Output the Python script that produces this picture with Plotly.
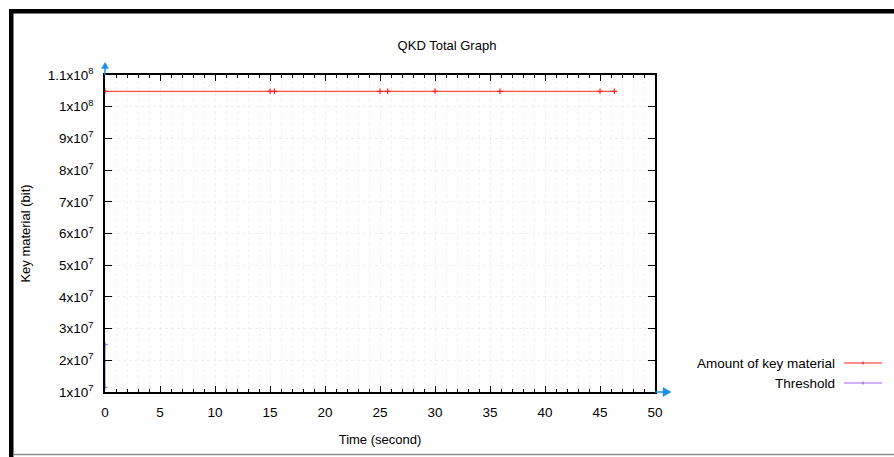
import plotly.graph_objects as go

# ---- data ----
time_s = [0, 15, 15.4, 25, 25.7, 30, 35.9, 45, 46.3]
key_material = [104857600, 104857600, 104857600, 104857600, 104857600,
                104857600, 104857600, 104857600, 104857600]
threshold_t = [0, 0]
threshold_v = [11500000, 25000000]
y_tickvals = [1e7, 2e7, 3e7, 4e7, 5e7, 6e7, 7e7, 8e7, 9e7, 1e8, 1.1e8]
y_ticktext = ["1x10<sup>7</sup>", "2x10<sup>7</sup>", "3x10<sup>7</sup>", "4x10<sup>7</sup>",
              "5x10<sup>7</sup>", "6x10<sup>7</sup>", "7x10<sup>7</sup>", "8x10<sup>7</sup>",
              "9x10<sup>7</sup>", "1x10<sup>8</sup>", "1.1x10<sup>8</sup>"]
series_names = ["Amount of key material", "Threshold"]
series_colors = ["#ff2020", "#a45ef0"]

W, H = 894, 457
L, R, T, B = 105, 655, 75, 392
FONT = "Liberation Sans, Arial, Helvetica, sans-serif"
BLUE = "#1a8fe3"


def px(xp):
    return (xp - L) / (R - L)


def py(yp):
    return (B - yp) / (B - T)


fig = go.Figure()
fig.add_trace(go.Scatter(x=threshold_t, y=threshold_v, mode="lines+markers",
                         line=dict(color=series_colors[1], width=1),
                         marker=dict(symbol="cross-thin", size=4,
                                     line=dict(color=series_colors[1], width=1)),
                         name=series_names[1], showlegend=False))
fig.add_trace(go.Scatter(x=time_s, y=key_material, mode="lines+markers",
                         line=dict(color=series_colors[0], width=1),
                         marker=dict(symbol="cross-thin", size=4,
                                     line=dict(color=series_colors[0], width=1.2)),
                         name=series_names[0], showlegend=False))

axis_common = dict(showline=True, linecolor="black", linewidth=1.5, mirror="ticks",
                   ticks="inside", tickcolor="black", tickwidth=1.4,
                   showgrid=True, gridcolor="#eeeeee", griddash="dot", gridwidth=1,
                   zeroline=False, tickfont=dict(family=FONT, size=13.5, color="black"))

fig.update_xaxes(range=[0, 50], tickmode="linear", tick0=0, dtick=5, ticklen=6,
                 ticklabelstandoff=7,
                 minor=dict(dtick=1, ticklen=3, ticks="inside", tickcolor="black",
                            showgrid=True, gridcolor="#f2f2f2", griddash="dot"),
                 title=dict(text="Time (second)", font=dict(family=FONT, size=13, color="black"),
                            standoff=16),
                 **axis_common)
fig.update_yaxes(range=[1e7, 1.1e8], tickvals=y_tickvals, ticktext=y_ticktext, ticklen=7,
                 ticklabelstandoff=7,
                 title=dict(text="Key material (bit)", font=dict(family=FONT, size=13, color="black"),
                            standoff=14),
                 **axis_common)

shapes = []
# legend samples
for i, (nm, col) in enumerate(zip(series_names, series_colors)):
    yy = py(363 + 20 * i)
    shapes.append(dict(type="line", xref="paper", yref="paper", x0=px(844), x1=px(882),
                       y0=yy, y1=yy, line=dict(color=col, width=1)))
    shapes.append(dict(type="line", xref="paper", yref="paper", x0=px(863), x1=px(863),
                       y0=py(363 + 20 * i - 1.5), y1=py(363 + 20 * i + 1.5),
                       line=dict(color=col, width=1.2)))
# blue axis arrows
shapes.append(dict(type="line", xref="paper", yref="paper", x0=px(105), x1=px(105),
                   y0=py(75), y1=py(67), line=dict(color=BLUE, width=1.5)))
shapes.append(dict(type="path", xref="paper", yref="paper",
                   path=f"M {px(101.5)},{py(68.5)} L {px(105)},{py(62.5)} L {px(108.5)},{py(68.5)} Z",
                   fillcolor=BLUE, line=dict(color=BLUE, width=0.5)))
shapes.append(dict(type="line", xref="paper", yref="paper", x0=px(655), x1=px(664),
                   y0=py(392), y1=py(392), line=dict(color=BLUE, width=1.5)))
shapes.append(dict(type="path", xref="paper", yref="paper",
                   path=f"M {px(663)},{py(387.5)} L {px(671)},{py(392)} L {px(663)},{py(396.5)} Z",
                   fillcolor=BLUE, line=dict(color=BLUE, width=0.5)))
# page border (screenshot frame)
shapes.append(dict(type="rect", xref="paper", yref="paper", x0=px(9), x1=px(894),
                   y0=py(9), y1=py(13.5), fillcolor="black", line=dict(width=0)))
shapes.append(dict(type="rect", xref="paper", yref="paper", x0=px(9), x1=px(13.5),
                   y0=py(9), y1=py(457), fillcolor="black", line=dict(width=0)))
shapes.append(dict(type="line", xref="paper", yref="paper", x0=px(13), x1=px(894),
                   y0=py(454.5), y1=py(454.5), line=dict(color="#8a8a8a", width=1.5)))

annotations = []
for i, (nm, col) in enumerate(zip(series_names, series_colors)):
    annotations.append(dict(text=nm, xref="paper", yref="paper", x=px(837), y=py(363 + 20 * i),
                            xanchor="right", yanchor="middle", showarrow=False,
                            font=dict(family=FONT, size=13.5, color="black")))

fig.update_layout(width=W, height=H, margin=dict(l=L, r=W - R, t=T, b=H - B),
                  paper_bgcolor="white", plot_bgcolor="white",
                  title=dict(text="QKD Total Graph", x=px(380), xanchor="center",
                             y=1 - 45 / H, yanchor="middle",
                             font=dict(family=FONT, size=13, color="black")),
                  showlegend=False, shapes=shapes, annotations=annotations)

fig.write_html("out.html")
